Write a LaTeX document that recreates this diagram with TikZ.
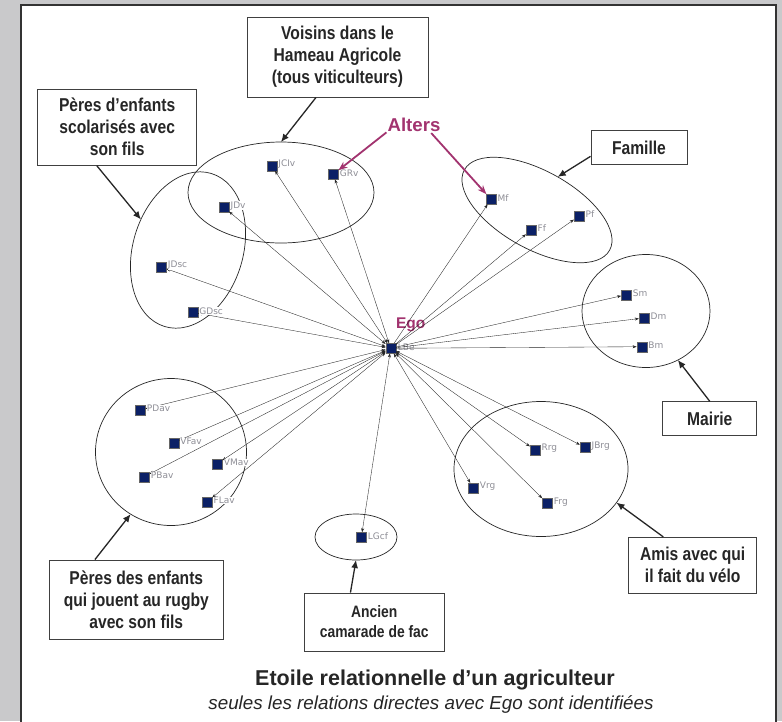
\documentclass[tikz,border=0pt]{standalone}
\usepackage{fontspec}
\setmainfont{Liberation Sans}
\newfontfamily\narrowsf[FakeStretch=0.84]{Liberation Sans}
\newfontfamily\nodesf{DejaVu Sans}
\usetikzlibrary{
  shapes.geometric,
  arrows.meta,
  positioning,
  calc,
}
\definecolor{cNavy}{HTML}{0B2066}
\definecolor{cPlum}{HTML}{A2336F}
\definecolor{cBg}{HTML}{C9C9CB}
\definecolor{cLbl}{HTML}{8E8E96}

\tikzset{
  grpbox/.style={draw=black!75, line width=0.9pt, fill=white, align=center, inner sep=0pt,
    text=black!85, font=\narrowsf\bfseries\fontsize{18.6}{22}\selectfont},
  grp/.style={ellipse, draw=black!85, line width=0.7pt, inner sep=0pt, outer sep=0pt},
  alter/.style={rectangle, fill=cNavy, draw=black!60, line width=0.3pt, minimum size=10pt, inner sep=0pt},
  alterlbl/.style={font=\nodesf\fontsize{9}{10}\selectfont, text=cLbl, fill=white, inner sep=0.3pt},
  tie/.style={black!85, line width=0.35pt, -{Stealth[length=4pt,width=3pt]}},
  tiebi/.style={tie, {Stealth[length=4pt,width=3pt]}-{Stealth[length=4pt,width=3pt]}},
  pointer/.style={black!85, line width=1.3pt, -{Latex[length=8pt,width=7pt]}},
  altpointer/.style={cPlum, line width=1.8pt, -{Stealth[length=9pt,width=7pt]}},
}

\begin{document}
\begin{tikzpicture}[x=1pt,y=-1pt]
  \fill[cBg] (0,0) rectangle (782,721);
  \useasboundingbox (0,0) rectangle (782,721);
  \draw[black!80, line width=2pt, fill=white] (21,5) rectangle (776,740);

  % groups
  \node[grp, minimum width=186pt, minimum height=101pt] (voisE) at (281,192.5) {};
  \node[grp, minimum width=160pt, minimum height=110pt, rotate=73] (scolE) at (188,250) {};
  \node[grp, minimum width=166pt, minimum height=78pt, rotate=-29] (famE) at (537,210) {};
  \node[grp, minimum width=128pt, minimum height=113pt] (mairE) at (646,311) {};
  \node[grp, minimum width=151pt, minimum height=147pt] (rugE) at (171,452) {};
  \node[grp, minimum width=82pt, minimum height=46pt] (facE) at (356,537) {};
  \node[grp, minimum width=174pt, minimum height=135pt] (veloE) at (541,469) {};

  % alters
  \foreach \n/\x/\y in {JCIv/271.7/165.7, GRv/333.3/174.3, JDv/224/207.3, JDsc/161.3/267,
      GDsc/192.7/312.3, Mf/491/199.3, Ff/531/230, Pf/579/216, Sm/626.3/294.7, Dm/644/318,
      Bm/641.7/346.7, PDav/140.3/410, VFav/173.7/442.7, VMav/217.3/463.7, PBav/144.3/476.7,
      FLav/207/502, LGcf/361.3/537.3, Rrg/535/450, JBrg/585/447.3, Vrg/473.3/488, Frg/547.3/503.3}{
      \node[alter] (\n) at (\x,\y) {};
    }

  % ego
  \node[alter] (LBe) at (390.7,348.3) {};
  \node[alterlbl, fill=none, right=1.5pt of LBe, yshift=1pt] (LBeLbl) {LBe};
  \node[font=\bfseries\fontsize{15.5}{16}\selectfont, text=cPlum] (egoLbl) at (410.7,325) {Ego};

  \foreach \n in {Mf,Ff,Pf,Sm,Dm,Bm}{
      \draw[tie] (LBe) -- (\n);
    }
  \foreach \n in {JCIv,GRv,JDv,JDsc,GDsc,PDav,VFav,VMav,PBav,FLav,LGcf,Rrg,JBrg,Vrg,Frg}{
      \draw[tiebi] (LBe) -- (\n);
    }

  \foreach \n in {JCIv,GRv,JDv,JDsc,GDsc,Mf,Ff,Pf,Sm,Dm,Bm,PDav,VFav,VMav,PBav,FLav,LGcf,Rrg,JBrg,Vrg,Frg}{
      \node[alterlbl, right=1pt of \n, yshift=1.5pt] {\n};
    }

  \node[font=\bfseries\fontsize{18.6}{20}\selectfont, text=cPlum, inner sep=1pt] (alters) at (414,125) {Alters};
  \draw[altpointer] (alters.-165) -- (GRv);
  \draw[altpointer] (alters.-25) -- (Mf);

  % boxes
  \node[grpbox, minimum width=181pt, minimum height=80pt] (voisBox) at (337.5,57)
    {Voisins dans le\\Hameau Agricole\\(tous viticulteurs)};
  \node[grpbox, minimum width=159pt, minimum height=76pt] (scolBox) at (117.2,127.2)
    {Pères d’enfants\\scolarisés avec\\son fils};
  \node[grpbox, minimum width=96pt, minimum height=34pt] (famBox) at (639,147.8) {Famille};
  \node[grpbox, minimum width=94pt, minimum height=34pt] (mairBox) at (709.8,418.8) {Mairie};
  \node[grpbox, minimum width=128pt, minimum height=56pt] (veloBox) at (692.7,565.3)
    {Amis avec qui\\il fait du vélo};
  \node[grpbox, minimum width=174pt, minimum height=79pt] (rugBox) at (136.3,599.5)
    {Pères des enfants\\qui jouent au rugby\\avec son fils};
  \node[grpbox, minimum width=140pt, minimum height=58pt,
    font=\narrowsf\bfseries\fontsize{16.5}{20}\selectfont] (facBox) at (374.3,622)
    {Ancien\\camarade de fac};

  \draw[pointer] (voisBox.-118) -- (voisE.north);
  \draw[pointer] (scolBox.-118) -- (scolE.74);
  \draw[pointer] (famBox.-170) -- (famE.87);
  \draw[pointer] (mairBox.north) -- (mairE.-57);
  \draw[pointer] (veloBox.136) -- (veloE.-24);
  \draw[pointer] (rugBox.136) -- (rugE.-123);
  \draw[pointer] (facBox.129) -- (facE.south);

  % title
  \node[font=\bfseries\fontsize{21.5}{24}\selectfont, text=black!85] (title) at (435,679.5)
    {Etoile relationnelle d’un agriculteur};
  \node[font=\itshape\fontsize{18.8}{22}\selectfont, text=black!85] (subtitle) at (431,705)
    {seules les relations directes avec Ego sont identifiées};
\end{tikzpicture}
\end{document}
